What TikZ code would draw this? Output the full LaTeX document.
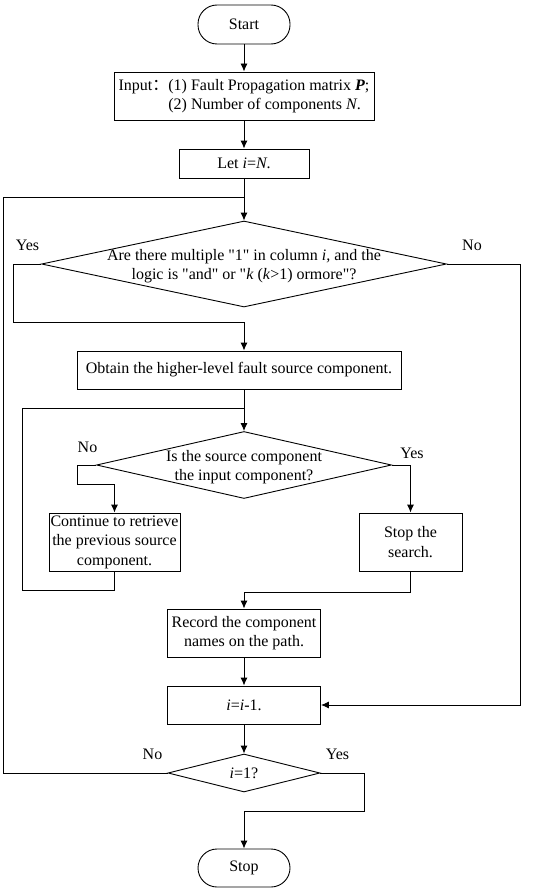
\documentclass[tikz,border=0pt]{standalone}
\usepackage{fontspec}
\setmainfont{Liberation Serif}[Ligatures=TeXOff]
\newfontfamily\cjkfont{Noto Sans CJK SC}
\usetikzlibrary{calc,shapes.geometric,arrows.meta}

\begin{document}
\begin{tikzpicture}[x=1pt,y=-1pt,line width=0.9pt,
    every node/.style={font=\fontsize{16}{19.5}\selectfont,inner sep=0pt},
    startstop/.style={draw,rectangle,rounded corners=19pt,minimum width=92pt,minimum height=39pt},
    process/.style={draw,rectangle,align=center},
    decision/.style={draw,diamond,inner sep=0pt},
    flow/.style={-{Latex[length=8pt,width=7pt]}}]
    \useasboundingbox (0,0) rectangle (550,891);% Fixes the page size

    \coordinate (JoinTop)  at (244,197);% Both loops meet here
    \coordinate (RailL)    at (3,197);
    \coordinate (YesA)     at (13,322);
    \coordinate (RailR)    at (520,0);
    \coordinate (JoinMid)  at (244,408);
    \coordinate (RailLtwo) at (22,590);
    \coordinate (NoB)      at (77,484);
    \coordinate (JoinLow)  at (244,592);
    \coordinate (YesC)     at (364,811);

    \node[startstop] (Start) at (244,24.5) {Start};
    \node[process,minimum width=260pt,minimum height=48pt] (Input) at (244,96)
        {\begin{tabular}{@{}l@{}l@{}}
         Input{\cjkfont ：} & (1) Fault Propagation matrix \textbf{\textit{P}};\\
                           & (2) Number of components \textit{N}.
         \end{tabular}};
    \node[process,minimum width=130pt,minimum height=29pt] (LetI) at (244,163.5)
        {Let \textit{i}=\textit{N}.};
    \node[decision,minimum width=405pt,minimum height=86pt,
        label={[align=center,yshift=-2pt]center:{Are there multiple "1" in column \textit{i,} and the\\
               logic is "and" or "\textit{k} (\textit{k}>1) ormore"?}}] (QOne) at (244,264) {};
    \node[process,minimum width=324pt,minimum height=38pt] (Obtain) at (239,370)
        {Obtain the higher-level fault source component.};
    \node[decision,minimum width=295pt,minimum height=67pt,
        label={[align=center,yshift=-2pt]center:{Is the source component\\
               the input component?}}] (QTwo) at (244,465) {};
    \node[process,minimum width=131pt,minimum height=58pt] (Cont) at (114.5,542)
        {Continue to retrieve\\ the previous source\\ component.};
    \node[process,minimum width=103pt,minimum height=58pt] (Search) at (410.5,542)
        {Stop the\\ search.};
    \node[process,minimum width=153pt,minimum height=48pt] (Record) at (244,633)
        {Record the component\\ names on the path.};
    \node[process,minimum width=153pt,minimum height=38pt] (Dec) at (244,705)
        {\textit{i}=\textit{i}-1.};
    \node[decision,minimum width=152pt,minimum height=38pt,
        label={center:{\textit{i}=1?}}] (QThree) at (244,773) {};
    \node[startstop,minimum height=38pt] (Stop) at (244,868) {Stop};

    % Yes / No labels
    \node (YesOne)   at (27.5,245.5) {Yes};
    \node (NoOne)    at (472,245)    {No};
    \node (NoTwo)    at (87.5,447)   {No};
    \node (YesTwo)   at (412,453)    {Yes};
    \node (NoThree)  at (152.5,754)  {No};
    \node (YesThree) at (337.5,754)  {Yes};

    \draw[flow] (Start.south) -- (Input.north);
    \draw[flow] (Input.south) -- (LetI.north);
    \draw[flow] (LetI.south) -- (QOne.north);
    \draw (QThree.west) -| (RailL) -- (JoinTop);% Outer loop back to the top
    \draw[flow] (QOne.west) -| (YesA) -| (Obtain.north -| QOne.north);
    \draw[flow] (QOne.east) -| (RailR |- Dec.east) -- (Dec.east);
    \draw[flow] (Obtain.south -| QTwo.north) -- (QTwo.north);
    \draw (Cont.south) |- (RailLtwo) |- (JoinMid);% Inner loop
    \draw[flow] (QTwo.west) -| (NoB) -| (Cont.north);
    \draw[flow] (QTwo.east) -| (Search.north);
    \draw[flow] (Search.south) |- (JoinLow) -- (Record.north);
    \draw[flow] (Record.south) -- (Dec.north);
    \draw[flow] (Dec.south) -- (QThree.north);
    \draw[flow] (QThree.east) -| (YesC) -| (Stop.north);
\end{tikzpicture}
\end{document}
